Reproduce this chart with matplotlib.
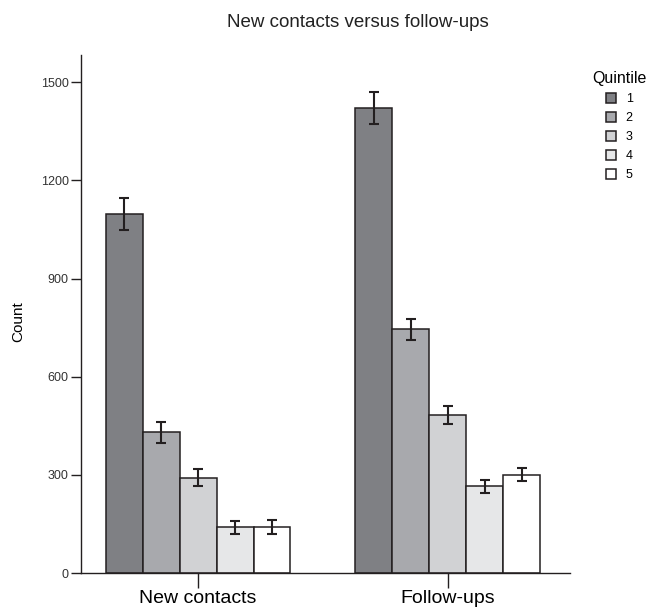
import matplotlib
matplotlib.use("Agg")
import matplotlib.pyplot as plt
import numpy as np

plt.rcParams['font.family'] = ['Liberation Sans', 'DejaVu Sans']

# data
groups = ["New contacts", "Follow-ups"]
quintiles = ["1", "2", "3", "4", "5"]
new_contacts = [1098, 430, 292, 140, 141]
new_contacts_err = [50, 33, 26, 20, 20]
follow_ups = [1422, 746, 484, 265, 301]
follow_ups_err = [48, 32, 27, 19, 19]
colors = ["#7f8084", "#a8a9ad", "#d1d2d4", "#e6e7e8", "#ffffff"]

values = np.array([new_contacts, follow_ups])
errors = np.array([new_contacts_err, follow_ups_err])

fig = plt.figure(figsize=(6.49, 6.13), dpi=100)
ax = fig.add_axes([0.125, 0.065, 0.753, 0.845])

x = np.arange(len(groups))
w = 0.148
dark = "#231f20"
handles = []
for i, q in enumerate(quintiles):
    pos = x + (i - 2) * w
    b = ax.bar(pos, values[:, i], width=w, color=colors[i], edgecolor=dark,
               linewidth=1.1, label=q, zorder=2)
    ax.errorbar(pos, values[:, i], yerr=errors[:, i], fmt="none", ecolor=dark,
                elinewidth=1.5, capsize=3.6, capthick=1.5, zorder=3)
    handles.append(b)

ax.set_xlim(-0.468, 1.488)
ax.set_ylim(0, 1583)
ax.set_yticks([0, 300, 600, 900, 1200, 1500])
ax.set_xticks(x)
ax.set_xticklabels(groups, fontsize=14)
ax.tick_params(axis="x", length=11, width=1, color=dark, pad=1)
ax.tick_params(axis="y", length=7, width=1, color=dark, pad=2,
               labelsize=9, labelcolor="#333333")
for s in ["top", "right"]:
    ax.spines[s].set_visible(False)
for s in ["left", "bottom"]:
    ax.spines[s].set_color(dark)
    ax.spines[s].set_linewidth(1)
ax.set_ylabel("Count", fontsize=11, labelpad=11)
ax.yaxis.label.set_y(0.485)

fig.text(0.552, 0.963, "New contacts versus follow-ups", ha="center", va="center",
         fontsize=13.5, color="#222222")

leg = fig.legend(handles=handles, labels=quintiles, title="Quintile",
                 loc="upper center", bbox_to_anchor=(0.954, 0.894), frameon=False,
                 fontsize=9, title_fontsize=11.5, handlelength=0.8, handleheight=0.8,
                 handletextpad=0.8, labelspacing=0.55, borderpad=0)

fig.savefig("out.png", dpi=100)
